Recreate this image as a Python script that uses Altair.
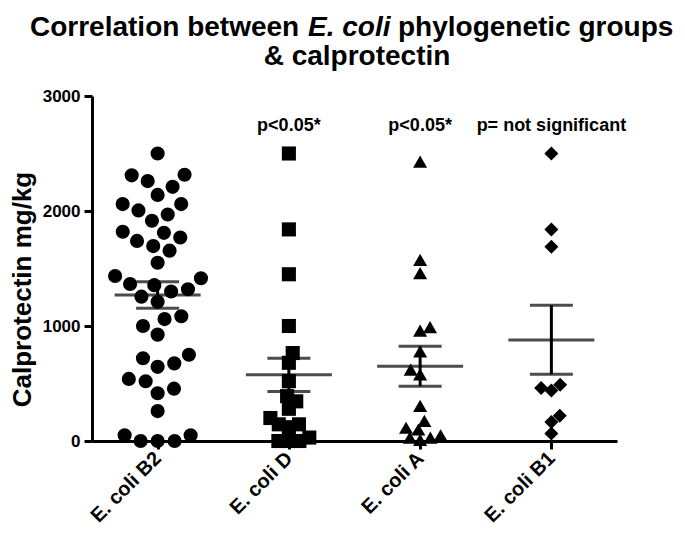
import math
import altair as alt
import pandas as pd

# ---------------- data ----------------
groups = ["E. coli B2", "E. coli D", "E. coli A", "E. coli B1"]
shapes = ["circle", "square", "triangle-up", "diamond"]

b2_vals = [2500, 2310, 2315, 2210, 2260, 2140, 2060, 2060, 2005, 1970, 1915,
           1820, 1810, 1770, 1740, 1695, 1655, 1550, 1415, 1435, 1355, 1365,
           1320, 1300, 1255, 1210, 1060, 1085, 1000, 925, 750, 720, 675, 645,
           540, 520, 455, 415, 260, 50, 50, 0, 0, 0]
d_vals = [2500, 1840, 1450, 1000, 765, 680, 520, 390, 345, 280, 200, 145, 145,
          120, 30, 0, 0, 0]
a_vals = [2430, 1575, 1460, 990, 960, 780, 620, 580, 305, 175, 115, 100, 50,
          30, 30, 10]
b1_vals = [2500, 1840, 1690, 490, 460, 440, 220, 165, 65]

means = [1270, 577, 650, 878]
sem_hi = [1385, 720, 823, 1180]
sem_lo = [1155, 430, 476, 580]
p_labels = ["", "p<0.05*", "p<0.05*", "p= not significant"]
p_label_y = 2700

title_line1 = ["Correlation between", "E. coli", "phylogenetic groups"]
title_line2 = "& calprotectin"
y_title = "Calprotectin mg/kg"

# ---------------- layout ----------------
W, H = 525, 345
YMAX = 3000
STEP = W / len(groups)
PPU = H / YMAX
spread = [17.0, 10.5, 10.5, 10.5]     # px separation used by the swarm
sizes = [200, 196, 196, 160]
FONT = "Liberation Sans"


def swarm(vals, d):
    """simple beeswarm: horizontal pixel offsets so that markers do not overlap"""
    ys = [v * PPU for v in vals]
    order = sorted(range(len(vals)), key=lambda i: ys[i])
    placed = []
    xs = [0.0] * len(vals)
    side = 1
    for i in order:
        y = ys[i]
        near = [(px, py) for px, py in placed if abs(py - y) < d]
        cands = [0.0]
        for px, py in near:
            dx = math.sqrt(max(d * d - (py - y) ** 2, 0))
            cands += [px + dx, px - dx]
        cands.sort(key=lambda c: (round(abs(c), 6), -side * c))
        for c in cands:
            if all((c - px) ** 2 + (y - py) ** 2 >= d * d - 1e-6 for px, py in near):
                xs[i] = c
                break
        if xs[i] != 0:
            side = -1 if xs[i] > 0 else 1
        placed.append((xs[i], y))
    return xs


rows = []
for gi, vals in enumerate([b2_vals, d_vals, a_vals, b1_vals]):
    offs = swarm(vals, spread[gi])
    for v, o in zip(vals, offs):
        rows.append({"group": groups[gi], "idx": gi + o / STEP, "value": v})
pts = pd.DataFrame(rows)

summ = pd.DataFrame({"group": groups, "idx": list(range(len(groups))),
                     "mean": means, "hi": sem_hi, "lo": sem_lo, "p": p_labels})

label_expr = "[" + ",".join("'%s'" % g for g in groups) + "][datum.value]"

x_scale = alt.Scale(domain=[-0.5, len(groups) - 0.5], nice=False, zero=False)
y_scale = alt.Scale(domain=[0, YMAX], nice=False)

x_axis = alt.Axis(values=list(range(len(groups))), labelExpr=label_expr, title=None,
                  labelAngle=-45, labelAlign="right", labelBaseline="middle",
                  labelFontSize=20, labelPadding=6, grid=False)
y_axis = alt.Axis(values=[0, 1000, 2000, 3000], format="d", title=y_title, grid=False,
                  labelFontSize=17, labelPadding=4, titleFontSize=26,
                  titlePadding=7, titleY=193)

X = alt.X("idx:Q", scale=x_scale, axis=x_axis)

points = alt.Chart(pts).mark_point(filled=True, opacity=1, color="black").encode(
    x=X,
    y=alt.Y("value:Q", scale=y_scale, axis=y_axis),
    shape=alt.Shape("group:N", scale=alt.Scale(domain=groups, range=shapes), legend=None),
    size=alt.Size("group:N", scale=alt.Scale(domain=groups, range=sizes), legend=None),
)

base = alt.Chart(summ)
mean_tick = base.mark_tick(orient="horizontal", size=86, thickness=3, color="black").encode(
    x=alt.X("idx:Q", scale=x_scale), y=alt.Y("mean:Q", scale=y_scale))
err_rule = base.mark_rule(strokeWidth=3, color="black").encode(
    x=alt.X("idx:Q", scale=x_scale), y=alt.Y("lo:Q", scale=y_scale), y2="hi:Q")
cap_hi = base.mark_tick(orient="horizontal", size=43, thickness=3, color="black").encode(
    x=alt.X("idx:Q", scale=x_scale), y=alt.Y("hi:Q", scale=y_scale))
cap_lo = base.mark_tick(orient="horizontal", size=43, thickness=3, color="black").encode(
    x=alt.X("idx:Q", scale=x_scale), y=alt.Y("lo:Q", scale=y_scale))
p_text = base.mark_text(fontSize=18, fontWeight="bold", font=FONT, color="black",
                        baseline="alphabetic").encode(
    x=alt.X("idx:Q", scale=x_scale), y=alt.YDatum(p_label_y, scale=y_scale),
    text="p:N")

# two-line title with an italic species name
tdf = pd.DataFrame({"t": [0]})
tbase = alt.Chart(tdf)
L1, L2 = -60, -31
t1 = tbase.mark_text(text=title_line1[0], fontSize=28, fontWeight="bold", font=FONT,
                     align="left", baseline="alphabetic", color="black").encode(
    x=alt.value(-62), y=alt.value(L1))
t2 = tbase.mark_text(text=title_line1[1], fontSize=28, fontWeight="bold", fontStyle="italic",
                     font=FONT, align="left", baseline="alphabetic", color="black").encode(
    x=alt.value(216), y=alt.value(L1))
t3 = tbase.mark_text(text=title_line1[2], fontSize=28, fontWeight="bold", font=FONT,
                     align="left", baseline="alphabetic", color="black").encode(
    x=alt.value(306), y=alt.value(L1))
t4 = tbase.mark_text(text=title_line2, fontSize=28, fontWeight="bold", font=FONT,
                     align="center", baseline="alphabetic", color="black").encode(
    x=alt.value(265), y=alt.value(L2))

chart = alt.layer(points, err_rule, mean_tick, cap_hi, cap_lo, p_text, t1, t2, t3, t4).properties(
    width=W, height=H,
    autosize=alt.AutoSizeParams(type="none"),
    padding={"left": 84, "top": 88, "right": 60, "bottom": 87},
    background="white",
).configure_view(stroke=None).configure_axis(
    domainColor="black", domainWidth=3, tickColor="black", tickWidth=3, tickSize=8,
    labelColor="black", titleColor="black", labelFont=FONT, titleFont=FONT,
    labelFontWeight="bold", titleFontWeight="bold",
).configure_text(font=FONT)

chart.save("out.html", embed_options={"renderer": "svg", "actions": False})
